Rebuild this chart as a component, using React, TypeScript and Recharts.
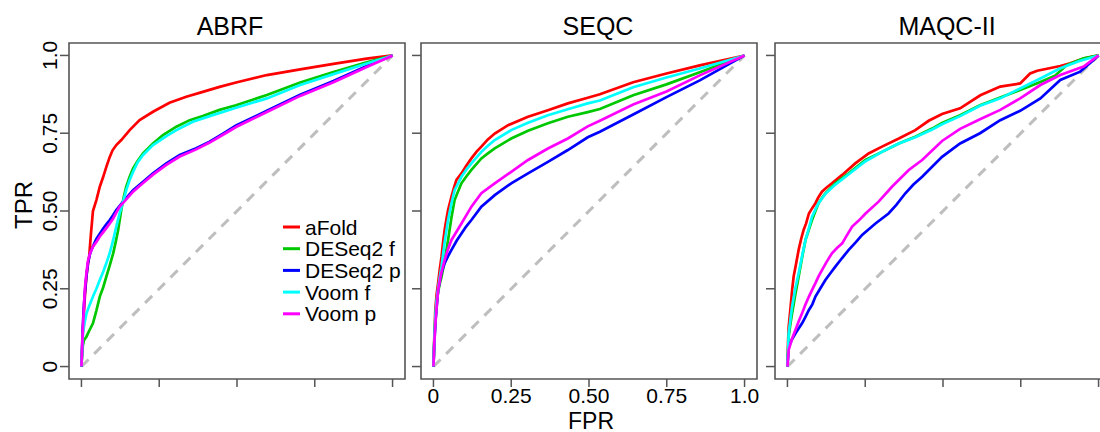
import React from 'react';
import { LineChart, Line, XAxis, YAxis, ReferenceArea, Legend } from 'recharts';

type Pt = [number, number];

const seriesNames = ['aFold', 'DESeq2 f', 'DESeq2 p', 'Voom f', 'Voom p'];
const seriesColors = ['#FF0000', '#00C800', '#0000FF', '#00FFFF', '#FF00FF'];
const panelTitles = ['ABRF', 'SEQC', 'MAQC-II'];
const axisTicks = [0, 0.25, 0.5, 0.75, 1];
const tickLabels = ['0', '0.25', '0.50', '0.75', '1.0'];
const diagonal: Pt[] = [[0, 0], [1, 1]];

// ABRF panel, [FPR, TPR]
const abrfAFold: Pt[] = [[0, 0], [0.004, 0.1], [0.007, 0.16], [0.012, 0.24], [0.016, 0.29], [0.021, 0.33], [0.025, 0.355], [0.03, 0.42], [0.037, 0.5], [0.048, 0.535], [0.059, 0.578], [0.07, 0.61], [0.08, 0.642], [0.091, 0.674], [0.1, 0.695], [0.112, 0.712], [0.128, 0.728], [0.155, 0.76], [0.187, 0.792], [0.23, 0.819], [0.283, 0.848], [0.337, 0.867], [0.39, 0.883], [0.444, 0.899], [0.497, 0.913], [0.596, 0.937], [0.703, 0.955], [0.81, 0.973], [0.917, 0.99], [1, 1]];
const abrfDeseqF: Pt[] = [[0, 0], [0.003, 0.06], [0.008, 0.085], [0.016, 0.096], [0.025, 0.115], [0.037, 0.139], [0.048, 0.18], [0.059, 0.225], [0.07, 0.255], [0.08, 0.289], [0.091, 0.325], [0.102, 0.364], [0.11, 0.4], [0.118, 0.439], [0.128, 0.503], [0.136, 0.545], [0.144, 0.578], [0.155, 0.61], [0.166, 0.637], [0.18, 0.66], [0.198, 0.685], [0.23, 0.717], [0.262, 0.744], [0.305, 0.771], [0.348, 0.792], [0.39, 0.805], [0.444, 0.825], [0.497, 0.84], [0.596, 0.873], [0.703, 0.913], [0.81, 0.947], [0.917, 0.978], [1, 1]];
const abrfDeseqP: Pt[] = [[0, 0], [0.004, 0.12], [0.008, 0.2], [0.013, 0.26], [0.017, 0.3], [0.021, 0.332], [0.027, 0.36], [0.032, 0.375], [0.04, 0.393], [0.048, 0.41], [0.059, 0.427], [0.07, 0.444], [0.08, 0.457], [0.091, 0.471], [0.102, 0.487], [0.112, 0.503], [0.134, 0.53], [0.166, 0.567], [0.198, 0.594], [0.23, 0.621], [0.273, 0.653], [0.316, 0.68], [0.369, 0.702], [0.412, 0.723], [0.455, 0.749], [0.497, 0.775], [0.596, 0.822], [0.703, 0.874], [0.81, 0.918], [0.917, 0.966], [1, 1]];
const abrfVoomF: Pt[] = [[0, 0], [0.003, 0.07], [0.005, 0.107], [0.01, 0.14], [0.016, 0.17], [0.025, 0.195], [0.037, 0.225], [0.048, 0.25], [0.059, 0.278], [0.07, 0.305], [0.08, 0.332], [0.091, 0.365], [0.102, 0.407], [0.112, 0.45], [0.123, 0.493], [0.134, 0.53], [0.144, 0.567], [0.155, 0.6], [0.166, 0.626], [0.18, 0.655], [0.198, 0.68], [0.23, 0.712], [0.273, 0.741], [0.305, 0.76], [0.358, 0.787], [0.412, 0.805], [0.497, 0.832], [0.596, 0.862], [0.703, 0.905], [0.81, 0.94], [0.917, 0.974], [1, 1]];
const abrfVoomP: Pt[] = [[0, 0], [0.004, 0.11], [0.008, 0.19], [0.011, 0.25], [0.016, 0.3], [0.021, 0.34], [0.028, 0.365], [0.037, 0.385], [0.048, 0.4], [0.059, 0.418], [0.07, 0.432], [0.08, 0.445], [0.091, 0.46], [0.102, 0.476], [0.112, 0.495], [0.123, 0.514], [0.134, 0.526], [0.166, 0.562], [0.198, 0.59], [0.23, 0.617], [0.273, 0.648], [0.316, 0.675], [0.369, 0.698], [0.412, 0.72], [0.455, 0.745], [0.497, 0.77], [0.596, 0.818], [0.703, 0.87], [0.81, 0.914], [0.917, 0.963], [1, 1]];

// SEQC panel
const seqcAFold: Pt[] = [[0, 0], [0.003, 0.1], [0.006, 0.182], [0.01, 0.23], [0.015, 0.268], [0.02, 0.31], [0.026, 0.353], [0.031, 0.4], [0.036, 0.439], [0.042, 0.475], [0.047, 0.503], [0.058, 0.546], [0.066, 0.575], [0.074, 0.6], [0.09, 0.621], [0.105, 0.645], [0.122, 0.669], [0.138, 0.69], [0.154, 0.707], [0.175, 0.73], [0.197, 0.749], [0.24, 0.776], [0.304, 0.803], [0.368, 0.824], [0.432, 0.846], [0.496, 0.864], [0.535, 0.875], [0.642, 0.914], [0.749, 0.942], [0.856, 0.968], [1, 1]];
const seqcDeseqF: Pt[] = [[0, 0], [0.003, 0.09], [0.006, 0.15], [0.01, 0.2], [0.015, 0.24], [0.02, 0.265], [0.026, 0.289], [0.036, 0.34], [0.047, 0.407], [0.058, 0.48], [0.068, 0.535], [0.08, 0.565], [0.09, 0.589], [0.105, 0.61], [0.122, 0.632], [0.154, 0.669], [0.175, 0.685], [0.197, 0.701], [0.25, 0.733], [0.304, 0.758], [0.368, 0.782], [0.432, 0.803], [0.496, 0.818], [0.535, 0.828], [0.642, 0.872], [0.749, 0.907], [0.856, 0.946], [1, 1]];
const seqcDeseqP: Pt[] = [[0, 0], [0.003, 0.08], [0.007, 0.15], [0.011, 0.2], [0.015, 0.246], [0.025, 0.3], [0.036, 0.332], [0.047, 0.355], [0.058, 0.375], [0.075, 0.405], [0.09, 0.428], [0.105, 0.45], [0.122, 0.471], [0.154, 0.514], [0.197, 0.551], [0.25, 0.589], [0.304, 0.621], [0.368, 0.658], [0.432, 0.696], [0.496, 0.737], [0.535, 0.755], [0.642, 0.81], [0.749, 0.866], [0.856, 0.92], [1, 1]];
const seqcVoomF: Pt[] = [[0, 0], [0.003, 0.09], [0.006, 0.16], [0.01, 0.21], [0.015, 0.25], [0.02, 0.285], [0.026, 0.321], [0.036, 0.4], [0.047, 0.471], [0.058, 0.525], [0.068, 0.567], [0.08, 0.59], [0.09, 0.61], [0.105, 0.632], [0.122, 0.653], [0.154, 0.69], [0.175, 0.71], [0.197, 0.728], [0.25, 0.76], [0.304, 0.784], [0.368, 0.808], [0.432, 0.827], [0.496, 0.846], [0.535, 0.855], [0.642, 0.898], [0.749, 0.929], [0.856, 0.958], [1, 1]];
const seqcVoomP: Pt[] = [[0, 0], [0.003, 0.08], [0.007, 0.15], [0.011, 0.2], [0.015, 0.246], [0.025, 0.3], [0.036, 0.343], [0.047, 0.378], [0.058, 0.407], [0.075, 0.435], [0.09, 0.46], [0.105, 0.485], [0.122, 0.514], [0.154, 0.557], [0.197, 0.589], [0.25, 0.626], [0.304, 0.664], [0.368, 0.701], [0.432, 0.733], [0.496, 0.772], [0.535, 0.79], [0.642, 0.842], [0.749, 0.884], [0.856, 0.936], [1, 1]];

// MAQC-II panel
const maqcAFold: Pt[] = [[0, 0], [0.002, 0.08], [0.004, 0.128], [0.01, 0.19], [0.015, 0.246], [0.02, 0.29], [0.026, 0.321], [0.036, 0.375], [0.044, 0.41], [0.052, 0.439], [0.06, 0.46], [0.069, 0.492], [0.08, 0.51], [0.09, 0.525], [0.1, 0.545], [0.111, 0.562], [0.125, 0.575], [0.143, 0.589], [0.176, 0.616], [0.218, 0.653], [0.261, 0.685], [0.304, 0.707], [0.358, 0.733], [0.411, 0.76], [0.454, 0.79], [0.497, 0.812], [0.555, 0.83], [0.62, 0.872], [0.684, 0.9], [0.748, 0.91], [0.78, 0.942], [0.803, 0.951], [0.877, 0.966], [0.909, 0.975], [0.952, 0.99], [1, 1]];
const maqcDeseqF: Pt[] = [[0, 0], [0.004, 0.096], [0.01, 0.14], [0.015, 0.171], [0.025, 0.23], [0.036, 0.289], [0.047, 0.35], [0.058, 0.407], [0.069, 0.44], [0.079, 0.471], [0.09, 0.5], [0.1, 0.525], [0.111, 0.542], [0.122, 0.557], [0.154, 0.589], [0.197, 0.621], [0.251, 0.664], [0.304, 0.69], [0.358, 0.717], [0.411, 0.739], [0.465, 0.765], [0.497, 0.783], [0.555, 0.808], [0.619, 0.84], [0.684, 0.865], [0.748, 0.889], [0.813, 0.915], [0.86, 0.935], [0.898, 0.969], [0.952, 0.991], [1, 1]];
const maqcDeseqP: Pt[] = [[0, 0], [0.004, 0.064], [0.015, 0.088], [0.026, 0.107], [0.036, 0.122], [0.047, 0.139], [0.058, 0.16], [0.069, 0.182], [0.08, 0.2], [0.09, 0.225], [0.105, 0.25], [0.122, 0.278], [0.138, 0.3], [0.154, 0.321], [0.175, 0.348], [0.197, 0.375], [0.22, 0.4], [0.24, 0.423], [0.283, 0.46], [0.325, 0.492], [0.35, 0.52], [0.379, 0.557], [0.405, 0.585], [0.433, 0.61], [0.497, 0.674], [0.555, 0.717], [0.619, 0.75], [0.684, 0.792], [0.748, 0.822], [0.813, 0.862], [0.877, 0.921], [0.941, 0.948], [0.984, 0.985], [1, 1]];
const maqcVoomF: Pt[] = [[0, 0], [0.004, 0.107], [0.01, 0.155], [0.015, 0.193], [0.025, 0.25], [0.036, 0.3], [0.047, 0.355], [0.058, 0.407], [0.069, 0.445], [0.079, 0.482], [0.09, 0.505], [0.1, 0.525], [0.111, 0.54], [0.122, 0.555], [0.154, 0.585], [0.197, 0.618], [0.251, 0.66], [0.304, 0.69], [0.358, 0.717], [0.411, 0.737], [0.465, 0.762], [0.497, 0.779], [0.555, 0.805], [0.619, 0.838], [0.684, 0.862], [0.748, 0.894], [0.813, 0.926], [0.877, 0.959], [0.941, 0.983], [1, 1]];
const maqcVoomP: Pt[] = [[0, 0], [0.004, 0.054], [0.015, 0.09], [0.026, 0.118], [0.036, 0.145], [0.047, 0.171], [0.058, 0.2], [0.069, 0.225], [0.08, 0.248], [0.09, 0.268], [0.1, 0.29], [0.111, 0.31], [0.125, 0.335], [0.143, 0.364], [0.16, 0.382], [0.176, 0.396], [0.19, 0.42], [0.208, 0.45], [0.23, 0.47], [0.251, 0.492], [0.293, 0.53], [0.336, 0.578], [0.39, 0.632], [0.433, 0.664], [0.497, 0.725], [0.555, 0.764], [0.619, 0.795], [0.684, 0.825], [0.748, 0.862], [0.813, 0.905], [0.877, 0.937], [0.952, 0.964], [1, 1]];

const panelCurves: Pt[][][] = [
  [abrfAFold, abrfDeseqF, abrfDeseqP, abrfVoomF, abrfVoomP],
  [seqcAFold, seqcDeseqF, seqcDeseqP, seqcVoomF, seqcVoomP],
  [maqcAFold, maqcDeseqF, maqcDeseqP, maqcVoomF, maqcVoomP],
];

const FONT = '"Liberation Sans", Arial, Helvetica, sans-serif';
const BOX = '#555555';
const PLOT = 336;
const AXIS_W = 60;
const boxLefts = [69, 421, 775];
const titleCenters = [230, 598, 947];

const toRows = (pts: Pt[]) => pts.map(([x, y]) => ({ x, y }));
const labelFor = (v: number) => tickLabels[axisTicks.indexOf(v)] ?? String(v);

const XTick = (props: any) => {
  const { x, y, payload, show } = props;
  if (!show) return <g />;
  return (
    <text x={x} y={y} dy="0.71em" textAnchor="middle" fontSize={21} fill="#000" fontFamily={FONT}>
      {labelFor(payload.value)}
    </text>
  );
};

const YTick = (props: any) => {
  const { x, y, payload, show } = props;
  if (!show) return <g />;
  return (
    <text transform={`translate(${x - 1},${y}) rotate(-90)`} textAnchor="middle" fontSize={21} fill="#000" fontFamily={FONT}>
      {labelFor(payload.value)}
    </text>
  );
};

// legend keeps the plotting order, not the alphabetical one
const LegendBox = ({ payload }: any) => {
  const items = (payload || [])
    .filter((p: any) => p.type !== 'none' && seriesNames.includes(p.value))
    .sort((a: any, b: any) => seriesNames.indexOf(a.value) - seriesNames.indexOf(b.value));
  return (
    <svg width={130} height={112} style={{ display: 'block' }}>
      {items.map((p: any, i: number) => {
        const cy = 12 + i * 21.7;
        return (
          <g key={p.value}>
            <line x1={0} x2={17} y1={cy} y2={cy} stroke={p.color} strokeWidth={3} />
            <text x={22} y={cy + 7.5} fontSize={21} fill="#000" fontFamily={FONT}>{p.value}</text>
          </g>
        );
      })}
    </svg>
  );
};

const Panel = ({ index }: { index: number }) => {
  const showY = index === 0;
  const showX = index === 1;
  const left = boxLefts[index] - AXIS_W;
  return (
    <div style={{ position: 'absolute', left, top: 0 }}>
      <LineChart width={AXIS_W + PLOT + 4} height={432} margin={{ top: 43, right: 4, bottom: 0, left: 0 }}>
        <XAxis type="number" dataKey="x" domain={[-0.04, 1.04]} ticks={axisTicks} interval={0} allowDataOverflow
          axisLine={false} tickSize={8} tickMargin={1} tickLine={{ stroke: BOX, strokeWidth: 1.5 }}
          tick={<XTick show={showX} />} height={53} />
        <YAxis type="number" dataKey="y" domain={[-0.04, 1.04]} ticks={axisTicks} interval={0} allowDataOverflow
          axisLine={false} tickSize={9} tickMargin={2} tickLine={{ stroke: BOX, strokeWidth: 1.5 }}
          tick={<YTick show={showY} />} width={AXIS_W} />
        <ReferenceArea x1={-0.04} x2={1.04} y1={-0.04} y2={1.04} fill="none" fillOpacity={0}
          stroke={BOX} strokeWidth={1.6} ifOverflow="visible" />
        <Line data={toRows(diagonal)} dataKey="y" stroke="#BEBEBE" strokeWidth={3} strokeDasharray="10 8"
          dot={false} legendType="none" isAnimationActive={false} />
        {panelCurves[index].map((curve, i) => (
          <Line key={seriesNames[i]} data={toRows(curve)} dataKey="y" name={seriesNames[i]}
            stroke={seriesColors[i]} strokeWidth={2.7} dot={false} type="linear" isAnimationActive={false} />
        ))}
        {showY && (
          <Legend layout="vertical" align="center" verticalAlign="middle" content={<LegendBox />}
            wrapperStyle={{ left: 283 - left, top: 226.7 - 12, width: 130, height: 112 }} />
        )}
      </LineChart>
    </div>
  );
};

export default function App() {
  return (
    <div style={{ position: 'absolute', left: 0, top: 0, width: 1100, height: 432, overflow: 'hidden', background: '#fff', fontFamily: FONT }}>
      {[0, 1, 2].map((i) => <Panel key={i} index={i} />)}
      <svg width={1100} height={432} style={{ position: 'absolute', left: 0, top: 0, pointerEvents: 'none' }}>
        {panelTitles.map((t, i) => (
          <text key={t} x={titleCenters[i]} y={35} textAnchor="middle" fontSize={25} fill="#000" fontFamily={FONT}>{t}</text>
        ))}
        <text transform="translate(31.5,205) rotate(-90)" textAnchor="middle" fontSize={24} fill="#000" fontFamily={FONT}>TPR</text>
        <text x={591} y={428.5} textAnchor="middle" fontSize={23} fill="#000" fontFamily={FONT}>FPR</text>
      </svg>
    </div>
  );
}
